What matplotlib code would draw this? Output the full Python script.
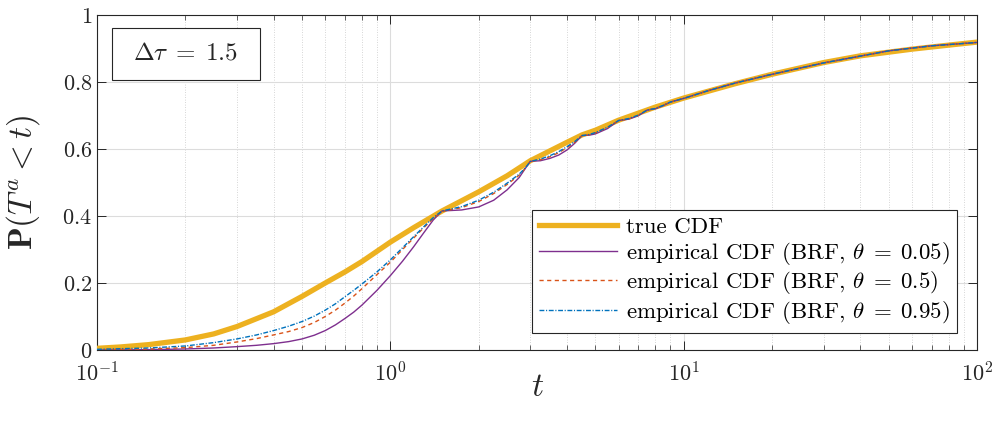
import numpy as np
import matplotlib
matplotlib.use("Agg")
import matplotlib.pyplot as plt
from matplotlib.patches import Rectangle
from matplotlib.ticker import FixedLocator, FixedFormatter, LogLocator, NullFormatter

plt.rcParams['font.family'] = 'cmr10'
plt.rcParams['mathtext.fontset'] = 'cm'
plt.rcParams['axes.formatter.use_mathtext'] = True

# true CDF
t_true = [0.1, 0.12, 0.15, 0.2, 0.25, 0.3, 0.4, 0.5, 0.6, 0.7, 0.8, 1.0, 1.2, 1.5,
          2.0, 2.5, 3.0, 4.0, 4.5, 5.0, 6.0, 8.0, 10.0, 15.0, 20.0, 30.0, 40.0,
          60.0, 80.0, 100.0]
p_true = [0.005, 0.009, 0.016, 0.030, 0.048, 0.070, 0.114, 0.160, 0.200, 0.233,
          0.264, 0.322, 0.365, 0.415, 0.472, 0.520, 0.565, 0.620, 0.642, 0.656,
          0.686, 0.725, 0.752, 0.795, 0.823, 0.858, 0.878, 0.898, 0.910, 0.919]

# empirical CDFs (BRF), common t grid
t_emp = [0.1, 0.15, 0.2, 0.25, 0.3, 0.35, 0.4, 0.45, 0.5, 0.55, 0.6, 0.65, 0.7,
         0.75, 0.8, 0.9, 1.0, 1.1, 1.2, 1.3, 1.4, 1.5, 1.75, 2.0, 2.25, 2.5, 2.75,
         2.9, 3.0, 3.25, 3.5, 3.75, 4.0, 4.25, 4.5, 4.75, 5.0, 5.5, 6.0, 6.5, 7.0,
         7.5, 8.0, 8.5, 9.0, 10.0, 12.0, 15.0, 20.0, 30.0, 50.0, 70.0, 100.0]
p_005 = [0.000, 0.001, 0.003, 0.006, 0.010, 0.014, 0.019, 0.025, 0.033, 0.044,
         0.058, 0.075, 0.094, 0.113, 0.134, 0.178, 0.222, 0.265, 0.308, 0.350,
         0.388, 0.415, 0.418, 0.427, 0.447, 0.478, 0.515, 0.545, 0.563, 0.565,
         0.572, 0.582, 0.597, 0.617, 0.640, 0.641, 0.645, 0.661, 0.685, 0.689,
         0.699, 0.716, 0.720, 0.729, 0.740, 0.751, 0.773, 0.797, 0.823, 0.857,
         0.893, 0.908, 0.918]
p_05 = [0.001, 0.003, 0.007, 0.014, 0.024, 0.034, 0.045, 0.055, 0.067, 0.082,
        0.100, 0.119, 0.140, 0.161, 0.183, 0.225, 0.262, 0.300, 0.334, 0.365,
        0.393, 0.414, 0.425, 0.443, 0.467, 0.494, 0.522, 0.545, 0.563, 0.568,
        0.577, 0.589, 0.604, 0.620, 0.640, 0.642, 0.648, 0.664, 0.685, 0.690,
        0.700, 0.716, 0.721, 0.730, 0.740, 0.751, 0.773, 0.797, 0.823, 0.857,
        0.893, 0.908, 0.918]
p_095 = [0.002, 0.006, 0.012, 0.022, 0.033, 0.045, 0.058, 0.071, 0.085, 0.101,
         0.119, 0.138, 0.159, 0.178, 0.197, 0.233, 0.269, 0.305, 0.338, 0.368,
         0.395, 0.415, 0.428, 0.447, 0.471, 0.498, 0.525, 0.546, 0.563, 0.570,
         0.580, 0.592, 0.607, 0.622, 0.640, 0.643, 0.649, 0.665, 0.685, 0.691,
         0.701, 0.716, 0.721, 0.730, 0.740, 0.751, 0.773, 0.797, 0.823, 0.857,
         0.893, 0.908, 0.918]

y_ticks = [0, 0.2, 0.4, 0.6, 0.8, 1]
y_ticklabels = ['$0$', '$0.2$', '$0.4$', '$0.6$', '$0.8$', '$1$']

fig = plt.figure(figsize=(9.95, 4.23), dpi=100)
ax = fig.add_axes([0.0975, 0.1726, 0.8845, 0.792])

ax.plot(t_true, p_true, color='#EDB120', lw=3.8, label='true CDF', zorder=3)
ax.plot(t_emp, p_005, color='#7E2F8E', lw=1.0,
        label=r'empirical CDF (BRF, $\theta\;=\;0.05$)', zorder=4)
ax.plot(t_emp, p_05, color='#D95319', lw=1.0, ls=(0, (3, 2.5)),
        label=r'empirical CDF (BRF, $\theta\;=\;0.5$)', zorder=4)
ax.plot(t_emp, p_095, color='#0072BD', lw=1.0, ls=(0, (3.5, 1.2, 0.8, 1.2)),
        label=r'empirical CDF (BRF, $\theta\;=\;0.95$)', zorder=4)

ax.set_xscale('log')
ax.set_xlim(0.1, 100)
ax.set_ylim(0, 1)
ax.xaxis.set_major_locator(LogLocator(base=10, numticks=10))
ax.xaxis.set_minor_locator(LogLocator(base=10, subs=np.arange(2, 10), numticks=20))
ax.xaxis.set_minor_formatter(NullFormatter())
ax.yaxis.set_major_locator(FixedLocator(y_ticks))
ax.yaxis.set_major_formatter(FixedFormatter(y_ticklabels))

ax.grid(True, which='major', color='#dcdcdc', lw=0.8, ls='-', zorder=0)
ax.grid(True, which='minor', axis='x', color='#c8c8c8', lw=0.6, ls=(0, (1, 2)), zorder=0)
ax.set_axisbelow(True)

ax.tick_params(which='both', direction='in', top=True, right=True,
               colors='#262626', labelsize=16)
ax.tick_params(which='major', length=6.3, width=0.7)
ax.tick_params(which='minor', length=3.5, width=0.5)
ax.tick_params(axis='x', pad=8)
for s in ax.spines.values():
    s.set_color('#262626')
    s.set_linewidth(0.8)

ax.set_xlabel('$t$', fontsize=24, color='#262626', labelpad=-9)
ax.set_ylabel(r'$\mathbf{P}(T^a < t)$', fontsize=24, color='#262626', labelpad=15)

leg = ax.legend(loc='lower right', bbox_to_anchor=(0.977, 0.051), borderaxespad=0,
                fontsize=16.5, handlelength=3.4, frameon=True, fancybox=False,
                edgecolor='#262626', framealpha=1, labelspacing=0.12,
                borderpad=0.3, handletextpad=0.4)
leg.get_frame().set_linewidth(0.8)

ax.add_patch(Rectangle((0.017, 0.806), 0.168, 0.155, transform=ax.transAxes,
                       facecolor='white', edgecolor='#262626', lw=0.8, zorder=5))
ax.text(0.101, 0.884, r'$\Delta\tau\;=\;1.5$', transform=ax.transAxes,
        ha='center', va='center', fontsize=18, color='#262626', zorder=6)

fig.savefig('out.png', dpi=100)
